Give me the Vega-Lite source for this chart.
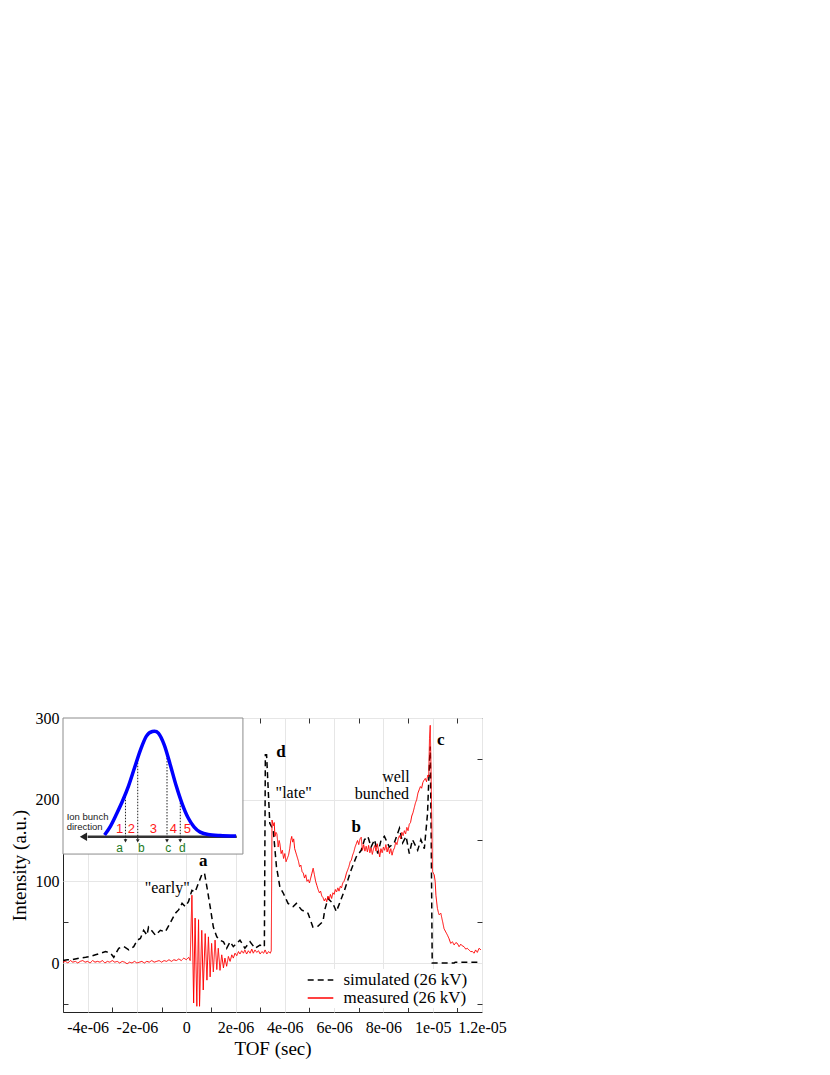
{
  "$schema": "https://vega.github.io/schema/vega-lite/v6.json",
  "width": 419,
  "height": 294,
  "autosize": "none",
  "padding": {"left": 63, "top": 718, "right": 348, "bottom": 63},
  "background": "white",
  "config": {
    "font": "Liberation Serif",
    "view": {"stroke": "#222", "strokeWidth": 1},
    "axis": {
      "labelFont": "Liberation Serif", "labelFontSize": 16, "labelColor": "black",
      "titleFont": "Liberation Serif", "titleFontSize": 19, "titleFontWeight": "normal", "titleColor": "black",
      "domain": false, "tickColor": "#333", "tickSize": -5, "tickWidth": 1,
      "gridColor": "#e6e6e6", "gridWidth": 1, "labelFlush": false, "labelOverlap": false
    },
    "legend": {
      "orient": "none", "legendX": 246.5, "legendY": 251, "padding": 2, "fillColor": "white",
      "labelFont": "Liberation Serif", "labelFontSize": 17, "labelColor": "black",
      "symbolType": "M-1.6,0H1.6", "symbolSize": 256, "symbolStrokeWidth": 1.5,
      "rowPadding": 1, "labelOffset": 14
    }
  },
  "datasets": {
    "curves": [
      {"s": "simulated", "t": -5.0, "v": 3}, {"s": "simulated", "t": -4.82, "v": 4}, {"s": "simulated", "t": -4.62, "v": 4},
      {"s": "simulated", "t": -4.35, "v": 6}, {"s": "simulated", "t": -4.08, "v": 7}, {"s": "simulated", "t": -3.88, "v": 8},
      {"s": "simulated", "t": -3.68, "v": 10}, {"s": "simulated", "t": -3.47, "v": 12}, {"s": "simulated", "t": -3.27, "v": 14},
      {"s": "simulated", "t": -3.07, "v": 12}, {"s": "simulated", "t": -2.94, "v": 7}, {"s": "simulated", "t": -2.74, "v": 18},
      {"s": "simulated", "t": -2.53, "v": 20}, {"s": "simulated", "t": -2.33, "v": 16}, {"s": "simulated", "t": -2.13, "v": 20},
      {"s": "simulated", "t": -1.99, "v": 28}, {"s": "simulated", "t": -1.86, "v": 30}, {"s": "simulated", "t": -1.73, "v": 40},
      {"s": "simulated", "t": -1.59, "v": 34}, {"s": "simulated", "t": -1.53, "v": 44}, {"s": "simulated", "t": -1.46, "v": 42},
      {"s": "simulated", "t": -1.25, "v": 34}, {"s": "simulated", "t": -1.05, "v": 40}, {"s": "simulated", "t": -0.85, "v": 38},
      {"s": "simulated", "t": -0.65, "v": 49}, {"s": "simulated", "t": -0.44, "v": 61}, {"s": "simulated", "t": -0.31, "v": 65},
      {"s": "simulated", "t": -0.17, "v": 73}, {"s": "simulated", "t": -0.04, "v": 69}, {"s": "simulated", "t": 0.09, "v": 75},
      {"s": "simulated", "t": 0.23, "v": 89}, {"s": "simulated", "t": 0.36, "v": 87}, {"s": "simulated", "t": 0.5, "v": 98},
      {"s": "simulated", "t": 0.63, "v": 108}, {"s": "simulated", "t": 0.74, "v": 110}, {"s": "simulated", "t": 0.84, "v": 93},
      {"s": "simulated", "t": 0.97, "v": 69}, {"s": "simulated", "t": 1.1, "v": 44}, {"s": "simulated", "t": 1.24, "v": 32},
      {"s": "simulated", "t": 1.37, "v": 28}, {"s": "simulated", "t": 1.51, "v": 26}, {"s": "simulated", "t": 1.64, "v": 18},
      {"s": "simulated", "t": 1.78, "v": 26}, {"s": "simulated", "t": 1.91, "v": 20}, {"s": "simulated", "t": 2.18, "v": 28},
      {"s": "simulated", "t": 2.38, "v": 18}, {"s": "simulated", "t": 2.59, "v": 26}, {"s": "simulated", "t": 2.79, "v": 18},
      {"s": "simulated", "t": 2.99, "v": 22}, {"s": "simulated", "t": 3.12, "v": 20}, {"s": "simulated", "t": 3.17, "v": 20},
      {"s": "simulated", "t": 3.21, "v": 255}, {"s": "simulated", "t": 3.26, "v": 255}, {"s": "simulated", "t": 3.39, "v": 171},
      {"s": "simulated", "t": 3.53, "v": 163}, {"s": "simulated", "t": 3.66, "v": 118}, {"s": "simulated", "t": 3.8, "v": 93},
      {"s": "simulated", "t": 3.93, "v": 86}, {"s": "simulated", "t": 4.13, "v": 73}, {"s": "simulated", "t": 4.34, "v": 69},
      {"s": "simulated", "t": 4.47, "v": 73}, {"s": "simulated", "t": 4.68, "v": 65}, {"s": "simulated", "t": 4.94, "v": 61},
      {"s": "simulated", "t": 5.08, "v": 49}, {"s": "simulated", "t": 5.14, "v": 44}, {"s": "simulated", "t": 5.34, "v": 45},
      {"s": "simulated", "t": 5.55, "v": 51}, {"s": "simulated", "t": 5.62, "v": 65}, {"s": "simulated", "t": 5.75, "v": 79},
      {"s": "simulated", "t": 5.95, "v": 73}, {"s": "simulated", "t": 6.09, "v": 63}, {"s": "simulated", "t": 6.22, "v": 73},
      {"s": "simulated", "t": 6.42, "v": 89}, {"s": "simulated", "t": 6.69, "v": 114}, {"s": "simulated", "t": 6.9, "v": 130},
      {"s": "simulated", "t": 7.1, "v": 138}, {"s": "simulated", "t": 7.23, "v": 151}, {"s": "simulated", "t": 7.37, "v": 155},
      {"s": "simulated", "t": 7.5, "v": 142}, {"s": "simulated", "t": 7.64, "v": 151}, {"s": "simulated", "t": 7.77, "v": 134},
      {"s": "simulated", "t": 7.91, "v": 151}, {"s": "simulated", "t": 8.04, "v": 155}, {"s": "simulated", "t": 8.24, "v": 142},
      {"s": "simulated", "t": 8.44, "v": 147}, {"s": "simulated", "t": 8.65, "v": 165}, {"s": "simulated", "t": 8.78, "v": 147},
      {"s": "simulated", "t": 8.92, "v": 155}, {"s": "simulated", "t": 9.05, "v": 134}, {"s": "simulated", "t": 9.18, "v": 151},
      {"s": "simulated", "t": 9.39, "v": 138}, {"s": "simulated", "t": 9.52, "v": 151}, {"s": "simulated", "t": 9.66, "v": 140},
      {"s": "simulated", "t": 9.79, "v": 183}, {"s": "simulated", "t": 9.86, "v": 240}, {"s": "simulated", "t": 9.9, "v": 265},
      {"s": "simulated", "t": 9.94, "v": 150}, {"s": "simulated", "t": 9.98, "v": 0}, {"s": "simulated", "t": 10.87, "v": 0},
      {"s": "simulated", "t": 10.91, "v": 1}, {"s": "simulated", "t": 11.96, "v": 1},

      {"s": "measured", "t": -5.0, "v": 1}, {"s": "measured", "t": -4.9, "v": 2}, {"s": "measured", "t": -4.8, "v": 0},
      {"s": "measured", "t": -4.7, "v": 3}, {"s": "measured", "t": -4.6, "v": 1}, {"s": "measured", "t": -4.5, "v": 2},
      {"s": "measured", "t": -4.4, "v": 0}, {"s": "measured", "t": -4.3, "v": 2}, {"s": "measured", "t": -4.2, "v": 3},
      {"s": "measured", "t": -4.1, "v": 1}, {"s": "measured", "t": -4.0, "v": 2}, {"s": "measured", "t": -3.9, "v": 0},
      {"s": "measured", "t": -3.8, "v": 3}, {"s": "measured", "t": -3.7, "v": 1}, {"s": "measured", "t": -3.6, "v": 2},
      {"s": "measured", "t": -3.5, "v": 1}, {"s": "measured", "t": -3.4, "v": 3}, {"s": "measured", "t": -3.3, "v": 0},
      {"s": "measured", "t": -3.2, "v": 2}, {"s": "measured", "t": -3.1, "v": 1}, {"s": "measured", "t": -3.0, "v": 3},
      {"s": "measured", "t": -2.9, "v": 1}, {"s": "measured", "t": -2.8, "v": 2}, {"s": "measured", "t": -2.7, "v": 0},
      {"s": "measured", "t": -2.6, "v": 2}, {"s": "measured", "t": -2.5, "v": 1}, {"s": "measured", "t": -2.4, "v": -1},
      {"s": "measured", "t": -2.3, "v": 1}, {"s": "measured", "t": -2.2, "v": 0}, {"s": "measured", "t": -2.1, "v": 2},
      {"s": "measured", "t": -2.0, "v": 0}, {"s": "measured", "t": -1.9, "v": 1}, {"s": "measured", "t": -1.8, "v": 2},
      {"s": "measured", "t": -1.7, "v": 0}, {"s": "measured", "t": -1.6, "v": 2}, {"s": "measured", "t": -1.5, "v": 1},
      {"s": "measured", "t": -1.4, "v": 3}, {"s": "measured", "t": -1.3, "v": 1}, {"s": "measured", "t": -1.2, "v": 2},
      {"s": "measured", "t": -1.1, "v": 3}, {"s": "measured", "t": -1.0, "v": 1}, {"s": "measured", "t": -0.9, "v": 3},
      {"s": "measured", "t": -0.8, "v": 2}, {"s": "measured", "t": -0.7, "v": 4}, {"s": "measured", "t": -0.6, "v": 2},
      {"s": "measured", "t": -0.5, "v": 4}, {"s": "measured", "t": -0.4, "v": 3}, {"s": "measured", "t": -0.3, "v": 5},
      {"s": "measured", "t": -0.2, "v": 3}, {"s": "measured", "t": -0.1, "v": 6}, {"s": "measured", "t": 0.0, "v": 4},
      {"s": "measured", "t": 0.1, "v": 7}, {"s": "measured", "t": 0.16, "v": 3}, {"s": "measured", "t": 0.23, "v": 83},
      {"s": "measured", "t": 0.3, "v": -49}, {"s": "measured", "t": 0.36, "v": 55}, {"s": "measured", "t": 0.43, "v": -53},
      {"s": "measured", "t": 0.5, "v": 53}, {"s": "measured", "t": 0.54, "v": -53}, {"s": "measured", "t": 0.63, "v": 40},
      {"s": "measured", "t": 0.69, "v": -33}, {"s": "measured", "t": 0.77, "v": 36}, {"s": "measured", "t": 0.84, "v": -21},
      {"s": "measured", "t": 0.9, "v": 32}, {"s": "measured", "t": 0.97, "v": -17}, {"s": "measured", "t": 1.03, "v": 24},
      {"s": "measured", "t": 1.1, "v": -11}, {"s": "measured", "t": 1.17, "v": 28}, {"s": "measured", "t": 1.24, "v": -8},
      {"s": "measured", "t": 1.3, "v": 18}, {"s": "measured", "t": 1.37, "v": -9}, {"s": "measured", "t": 1.44, "v": 10},
      {"s": "measured", "t": 1.51, "v": -6}, {"s": "measured", "t": 1.57, "v": 6}, {"s": "measured", "t": 1.64, "v": -4},
      {"s": "measured", "t": 1.71, "v": 8}, {"s": "measured", "t": 1.78, "v": 2}, {"s": "measured", "t": 1.85, "v": 10},
      {"s": "measured", "t": 1.91, "v": 6}, {"s": "measured", "t": 1.98, "v": 12}, {"s": "measured", "t": 2.05, "v": 9},
      {"s": "measured", "t": 2.12, "v": 14}, {"s": "measured", "t": 2.18, "v": 11}, {"s": "measured", "t": 2.25, "v": 15},
      {"s": "measured", "t": 2.32, "v": 12}, {"s": "measured", "t": 2.38, "v": 16}, {"s": "measured", "t": 2.45, "v": 11},
      {"s": "measured", "t": 2.52, "v": 15}, {"s": "measured", "t": 2.59, "v": 12}, {"s": "measured", "t": 2.66, "v": 17},
      {"s": "measured", "t": 2.72, "v": 12}, {"s": "measured", "t": 2.79, "v": 16}, {"s": "measured", "t": 2.86, "v": 13},
      {"s": "measured", "t": 2.93, "v": 15}, {"s": "measured", "t": 3.0, "v": 11}, {"s": "measured", "t": 3.07, "v": 14},
      {"s": "measured", "t": 3.14, "v": 12}, {"s": "measured", "t": 3.2, "v": 16}, {"s": "measured", "t": 3.27, "v": 11},
      {"s": "measured", "t": 3.34, "v": 14}, {"s": "measured", "t": 3.41, "v": 12}, {"s": "measured", "t": 3.45, "v": 15},
      {"s": "measured", "t": 3.48, "v": 175}, {"s": "measured", "t": 3.53, "v": 168}, {"s": "measured", "t": 3.57, "v": 172},
      {"s": "measured", "t": 3.6, "v": 155}, {"s": "measured", "t": 3.64, "v": 160}, {"s": "measured", "t": 3.68, "v": 158},
      {"s": "measured", "t": 3.73, "v": 142}, {"s": "measured", "t": 3.77, "v": 150}, {"s": "measured", "t": 3.8, "v": 146},
      {"s": "measured", "t": 3.85, "v": 134}, {"s": "measured", "t": 3.9, "v": 138}, {"s": "measured", "t": 3.95, "v": 128},
      {"s": "measured", "t": 4.0, "v": 134}, {"s": "measured", "t": 4.05, "v": 124}, {"s": "measured", "t": 4.1, "v": 128},
      {"s": "measured", "t": 4.15, "v": 132}, {"s": "measured", "t": 4.2, "v": 140}, {"s": "measured", "t": 4.24, "v": 150},
      {"s": "measured", "t": 4.28, "v": 155}, {"s": "measured", "t": 4.32, "v": 148}, {"s": "measured", "t": 4.36, "v": 152},
      {"s": "measured", "t": 4.4, "v": 140}, {"s": "measured", "t": 4.45, "v": 135}, {"s": "measured", "t": 4.5, "v": 130},
      {"s": "measured", "t": 4.55, "v": 125}, {"s": "measured", "t": 4.6, "v": 118}, {"s": "measured", "t": 4.65, "v": 120},
      {"s": "measured", "t": 4.7, "v": 112}, {"s": "measured", "t": 4.75, "v": 110}, {"s": "measured", "t": 4.8, "v": 104},
      {"s": "measured", "t": 4.85, "v": 108}, {"s": "measured", "t": 4.9, "v": 100}, {"s": "measured", "t": 4.95, "v": 102},
      {"s": "measured", "t": 5.0, "v": 98}, {"s": "measured", "t": 5.05, "v": 104}, {"s": "measured", "t": 5.1, "v": 110},
      {"s": "measured", "t": 5.15, "v": 116}, {"s": "measured", "t": 5.2, "v": 108}, {"s": "measured", "t": 5.25, "v": 100},
      {"s": "measured", "t": 5.3, "v": 95}, {"s": "measured", "t": 5.35, "v": 90}, {"s": "measured", "t": 5.4, "v": 86},
      {"s": "measured", "t": 5.45, "v": 88}, {"s": "measured", "t": 5.5, "v": 82}, {"s": "measured", "t": 5.55, "v": 80},
      {"s": "measured", "t": 5.6, "v": 76}, {"s": "measured", "t": 5.65, "v": 79}, {"s": "measured", "t": 5.7, "v": 75},
      {"s": "measured", "t": 5.75, "v": 82}, {"s": "measured", "t": 5.8, "v": 78}, {"s": "measured", "t": 5.85, "v": 84},
      {"s": "measured", "t": 5.9, "v": 79}, {"s": "measured", "t": 5.95, "v": 86}, {"s": "measured", "t": 6.0, "v": 84},
      {"s": "measured", "t": 6.05, "v": 90}, {"s": "measured", "t": 6.1, "v": 87}, {"s": "measured", "t": 6.15, "v": 92},
      {"s": "measured", "t": 6.2, "v": 88}, {"s": "measured", "t": 6.25, "v": 94}, {"s": "measured", "t": 6.3, "v": 92},
      {"s": "measured", "t": 6.35, "v": 98}, {"s": "measured", "t": 6.4, "v": 100}, {"s": "measured", "t": 6.45, "v": 104},
      {"s": "measured", "t": 6.5, "v": 110}, {"s": "measured", "t": 6.55, "v": 114}, {"s": "measured", "t": 6.6, "v": 118},
      {"s": "measured", "t": 6.65, "v": 124}, {"s": "measured", "t": 6.7, "v": 126}, {"s": "measured", "t": 6.75, "v": 132},
      {"s": "measured", "t": 6.8, "v": 136}, {"s": "measured", "t": 6.85, "v": 142}, {"s": "measured", "t": 6.9, "v": 146},
      {"s": "measured", "t": 6.95, "v": 150}, {"s": "measured", "t": 7.0, "v": 145}, {"s": "measured", "t": 7.05, "v": 152},
      {"s": "measured", "t": 7.1, "v": 154}, {"s": "measured", "t": 7.15, "v": 138}, {"s": "measured", "t": 7.2, "v": 145},
      {"s": "measured", "t": 7.25, "v": 137}, {"s": "measured", "t": 7.3, "v": 143}, {"s": "measured", "t": 7.35, "v": 136},
      {"s": "measured", "t": 7.4, "v": 144}, {"s": "measured", "t": 7.45, "v": 135}, {"s": "measured", "t": 7.5, "v": 141},
      {"s": "measured", "t": 7.55, "v": 133}, {"s": "measured", "t": 7.6, "v": 140}, {"s": "measured", "t": 7.65, "v": 144},
      {"s": "measured", "t": 7.7, "v": 137}, {"s": "measured", "t": 7.75, "v": 146}, {"s": "measured", "t": 7.8, "v": 138},
      {"s": "measured", "t": 7.85, "v": 130}, {"s": "measured", "t": 7.9, "v": 140}, {"s": "measured", "t": 7.95, "v": 135},
      {"s": "measured", "t": 8.0, "v": 142}, {"s": "measured", "t": 8.05, "v": 138}, {"s": "measured", "t": 8.1, "v": 145},
      {"s": "measured", "t": 8.15, "v": 136}, {"s": "measured", "t": 8.2, "v": 142}, {"s": "measured", "t": 8.25, "v": 134},
      {"s": "measured", "t": 8.3, "v": 140}, {"s": "measured", "t": 8.35, "v": 132}, {"s": "measured", "t": 8.4, "v": 138},
      {"s": "measured", "t": 8.45, "v": 141}, {"s": "measured", "t": 8.5, "v": 148}, {"s": "measured", "t": 8.55, "v": 145},
      {"s": "measured", "t": 8.6, "v": 152}, {"s": "measured", "t": 8.65, "v": 156}, {"s": "measured", "t": 8.7, "v": 152},
      {"s": "measured", "t": 8.75, "v": 160}, {"s": "measured", "t": 8.8, "v": 156}, {"s": "measured", "t": 8.85, "v": 162},
      {"s": "measured", "t": 8.9, "v": 158}, {"s": "measured", "t": 8.95, "v": 166}, {"s": "measured", "t": 9.0, "v": 162},
      {"s": "measured", "t": 9.05, "v": 170}, {"s": "measured", "t": 9.1, "v": 172}, {"s": "measured", "t": 9.15, "v": 180},
      {"s": "measured", "t": 9.2, "v": 184}, {"s": "measured", "t": 9.25, "v": 190}, {"s": "measured", "t": 9.3, "v": 196},
      {"s": "measured", "t": 9.35, "v": 200}, {"s": "measured", "t": 9.4, "v": 208}, {"s": "measured", "t": 9.45, "v": 212},
      {"s": "measured", "t": 9.5, "v": 216}, {"s": "measured", "t": 9.55, "v": 214}, {"s": "measured", "t": 9.6, "v": 221},
      {"s": "measured", "t": 9.65, "v": 224}, {"s": "measured", "t": 9.7, "v": 226}, {"s": "measured", "t": 9.75, "v": 222},
      {"s": "measured", "t": 9.8, "v": 230}, {"s": "measured", "t": 9.84, "v": 228}, {"s": "measured", "t": 9.87, "v": 275},
      {"s": "measured", "t": 9.9, "v": 291}, {"s": "measured", "t": 9.93, "v": 240}, {"s": "measured", "t": 9.97, "v": 160},
      {"s": "measured", "t": 9.99, "v": 112}, {"s": "measured", "t": 10.06, "v": 108}, {"s": "measured", "t": 10.1, "v": 100},
      {"s": "measured", "t": 10.13, "v": 83}, {"s": "measured", "t": 10.19, "v": 67}, {"s": "measured", "t": 10.23, "v": 62},
      {"s": "measured", "t": 10.26, "v": 59}, {"s": "measured", "t": 10.33, "v": 61}, {"s": "measured", "t": 10.37, "v": 55},
      {"s": "measured", "t": 10.4, "v": 51}, {"s": "measured", "t": 10.46, "v": 42}, {"s": "measured", "t": 10.53, "v": 38},
      {"s": "measured", "t": 10.6, "v": 34}, {"s": "measured", "t": 10.66, "v": 30}, {"s": "measured", "t": 10.73, "v": 24},
      {"s": "measured", "t": 10.8, "v": 26}, {"s": "measured", "t": 10.87, "v": 22}, {"s": "measured", "t": 10.94, "v": 25},
      {"s": "measured", "t": 11.0, "v": 24}, {"s": "measured", "t": 11.07, "v": 20}, {"s": "measured", "t": 11.14, "v": 23},
      {"s": "measured", "t": 11.2, "v": 21}, {"s": "measured", "t": 11.27, "v": 20}, {"s": "measured", "t": 11.34, "v": 17},
      {"s": "measured", "t": 11.4, "v": 18}, {"s": "measured", "t": 11.47, "v": 16}, {"s": "measured", "t": 11.54, "v": 14},
      {"s": "measured", "t": 11.61, "v": 14}, {"s": "measured", "t": 11.68, "v": 12}, {"s": "measured", "t": 11.74, "v": 16},
      {"s": "measured", "t": 11.81, "v": 13}, {"s": "measured", "t": 11.88, "v": 18}, {"s": "measured", "t": 11.96, "v": 16}
    ],
    "box": [{"x1": -5, "x2": 2.3, "y1": 133.4, "y2": 300}],
    "arrow": [{"x1": -4.0, "x2": 2.05, "y": 154.6, "hx": -4.17}],
    "cuts": [
      {"t": -2.465, "top": 203.6, "bot": 149.5},
      {"t": -1.968, "top": 252.6, "bot": 149.5},
      {"t": -0.78, "top": 254.7, "bot": 149.5},
      {"t": -0.242, "top": 203.6, "bot": 149.5}
    ],
    "bunch": [
      {"t": -3.313, "v": 156.7}, {"t": -3.071, "v": 167.7}, {"t": -2.828, "v": 182.4}, {"t": -2.586, "v": 198.3},
      {"t": -2.343, "v": 216.6}, {"t": -2.101, "v": 238.7}, {"t": -1.859, "v": 260.7}, {"t": -1.616, "v": 277.8},
      {"t": -1.374, "v": 283.4}, {"t": -1.131, "v": 281.5}, {"t": -0.889, "v": 266.8}, {"t": -0.646, "v": 242.4},
      {"t": -0.404, "v": 216.6}, {"t": -0.162, "v": 194.6}, {"t": 0.081, "v": 177.5}, {"t": 0.323, "v": 166.5},
      {"t": 0.566, "v": 160.3}, {"t": 0.889, "v": 157.3}, {"t": 1.374, "v": 156.1}, {"t": 2.02, "v": 155.4}
    ],
    "nums": [
      {"t": -2.707, "v": 164, "txt": "1"}, {"t": -2.222, "v": 164, "txt": "2"}, {"t": -1.333, "v": 164, "txt": "3"},
      {"t": -0.525, "v": 164, "txt": "4"}, {"t": 0.05, "v": 164, "txt": "5"}
    ],
    "letters": [
      {"t": -2.707, "v": 141, "txt": "a"}, {"t": -1.818, "v": 141, "txt": "b"},
      {"t": -0.727, "v": 141, "txt": "c"}, {"t": -0.162, "v": 141, "txt": "d"}
    ],
    "dirtext": [
      {"t": -4.85, "v": 178.8, "txt": "Ion bunch"}, {"t": -4.85, "v": 166.5, "txt": "direction"}
    ],
    "boldann": [
      {"t": 0.69, "v": 125, "txt": "a"}, {"t": 3.84, "v": 258.4, "txt": "d"},
      {"t": 6.9, "v": 167, "txt": "b"}, {"t": 10.33, "v": 273, "txt": "c"}
    ],
    "ann": [
      {"t": -0.77, "v": 92, "txt": "\"early\""}, {"t": 4.36, "v": 207.7, "txt": "\"late\""},
      {"t": 8.51, "v": 228, "txt": "well"}, {"t": 7.94, "v": 207, "txt": "bunched"}
    ]
  },
  "layer": [
    {
      "data": {"name": "curves"},
      "transform": [{"filter": "datum.s == 'simulated'"}],
      "mark": {"type": "line", "strokeWidth": 1.5},
      "encoding": {
        "x": {
          "field": "t", "type": "quantitative",
          "scale": {"domain": [-5, 12], "nice": false, "zero": false},
          "axis": {
            "orient": "bottom", "title": "TOF (sec)",
            "values": [-5, -4, -3, -2, -1, 0, 1, 2, 3, 4, 5, 6, 7, 8, 9, 10, 11, 12],
            "labelExpr": "abs(datum.value % 2) == 1 ? '' : datum.value == 0 ? '0' : datum.value == 10 ? '1e-05' : datum.value == 12 ? '1.2e-05' : datum.value + 'e-06'",
            "tickOpacity": {"condition": {"test": "abs(datum.value % 2) == 1", "value": 1}, "value": 0},
            "gridOpacity": {"condition": {"test": "datum.value % 2 == 0", "value": 1}, "value": 0},
            "labelPadding": 12, "titlePadding": 4
          }
        },
        "y": {
          "field": "v", "type": "quantitative",
          "scale": {"domain": [-60, 300], "nice": false, "zero": false},
          "axis": {
            "orient": "left", "title": "Intensity (a.u.)",
            "values": [-50, 0, 50, 100, 150, 200, 250, 300],
            "labelExpr": "datum.value % 100 == 0 ? datum.value + '' : ''",
            "tickOpacity": {"condition": {"test": "datum.value % 100 != 0", "value": 1}, "value": 0},
            "gridOpacity": {"condition": {"test": "datum.value % 100 == 0", "value": 1}, "value": 0},
            "labelPadding": 9, "titlePadding": 6
          }
        },
        "color": {
          "field": "s", "type": "nominal",
          "scale": {"domain": ["simulated", "measured"], "range": ["black", "#ff0000"]},
          "legend": {"title": null, "labelExpr": "datum.label + ' (26 kV)'"}
        },
        "strokeDash": {
          "field": "s", "type": "nominal",
          "scale": {"domain": ["simulated", "measured"], "range": [[6, 4], [1, 0]]},
          "legend": {"title": null, "labelExpr": "datum.label + ' (26 kV)'"}
        }
      }
    },
    {
      "data": {"name": "curves"},
      "transform": [{"filter": "datum.s == 'measured'"}],
      "mark": {"type": "line", "strokeWidth": 1},
      "encoding": {
        "x": {"field": "t", "type": "quantitative", "axis": null},
        "y": {"field": "v", "type": "quantitative", "axis": null},
        "color": {"field": "s", "type": "nominal", "legend": {"title": null, "labelExpr": "datum.label + ' (26 kV)'"}},
        "strokeDash": {"field": "s", "type": "nominal", "legend": {"title": null, "labelExpr": "datum.label + ' (26 kV)'"}}
      }
    },
    {
      "data": {"name": "box"},
      "mark": {"type": "rect", "fill": "white", "stroke": "#8c8c8c", "strokeWidth": 1},
      "encoding": {
        "x": {"field": "x1", "type": "quantitative", "axis": {"orient": "top", "values": [-3, -1, 1, 3, 5, 7, 9, 11], "labels": false, "grid": false, "title": null}},
        "x2": {"field": "x2"},
        "y": {"field": "y1", "type": "quantitative", "axis": {"orient": "right", "values": [-50, 50, 150, 250], "labels": false, "grid": false, "title": null}},
        "y2": {"field": "y2"}
      }
    },
    {
      "data": {"name": "arrow"},
      "mark": {"type": "rule", "stroke": "#333333", "strokeWidth": 2.5},
      "encoding": {
        "x": {"field": "x1", "type": "quantitative", "axis": null},
        "x2": {"field": "x2"},
        "y": {"field": "y", "type": "quantitative", "axis": null}
      }
    },
    {
      "data": {"name": "arrow"},
      "mark": {"type": "point", "shape": "triangle-left", "filled": true, "fill": "#222222", "size": 70, "opacity": 1},
      "encoding": {
        "x": {"field": "hx", "type": "quantitative", "axis": null},
        "y": {"field": "y", "type": "quantitative", "axis": null}
      }
    },
    {
      "data": {"name": "cuts"},
      "mark": {"type": "rule", "stroke": "#222222", "strokeWidth": 1, "strokeDash": [1.5, 1.5]},
      "encoding": {
        "x": {"field": "t", "type": "quantitative", "axis": null},
        "y": {"field": "top", "type": "quantitative", "axis": null},
        "y2": {"field": "bot"}
      }
    },
    {
      "data": {"name": "cuts"},
      "mark": {"type": "point", "shape": "triangle-down", "filled": true, "fill": "#222222", "size": 14, "opacity": 1},
      "encoding": {
        "x": {"field": "t", "type": "quantitative", "axis": null},
        "y": {"field": "bot", "type": "quantitative", "axis": null}
      }
    },
    {
      "data": {"name": "bunch"},
      "mark": {"type": "line", "stroke": "#0000ff", "strokeWidth": 3.5, "interpolate": "cardinal"},
      "encoding": {
        "x": {"field": "t", "type": "quantitative", "axis": null},
        "y": {"field": "v", "type": "quantitative", "axis": null}
      }
    },
    {
      "data": {"name": "nums"},
      "mark": {"type": "text", "font": "Liberation Sans", "fontSize": 13, "fill": "#ff1a1a", "align": "center", "baseline": "middle"},
      "encoding": {
        "x": {"field": "t", "type": "quantitative", "axis": null},
        "y": {"field": "v", "type": "quantitative", "axis": null},
        "text": {"field": "txt"}
      }
    },
    {
      "data": {"name": "letters"},
      "mark": {"type": "text", "font": "Liberation Sans", "fontSize": 12, "fill": "#1e7a1e", "align": "center", "baseline": "middle"},
      "encoding": {
        "x": {"field": "t", "type": "quantitative", "axis": null},
        "y": {"field": "v", "type": "quantitative", "axis": null},
        "text": {"field": "txt"}
      }
    },
    {
      "data": {"name": "dirtext"},
      "mark": {"type": "text", "font": "Liberation Sans", "fontSize": 9.5, "fill": "#222222", "align": "left", "baseline": "middle"},
      "encoding": {
        "x": {"field": "t", "type": "quantitative", "axis": null},
        "y": {"field": "v", "type": "quantitative", "axis": null},
        "text": {"field": "txt"}
      }
    },
    {
      "data": {"name": "boldann"},
      "mark": {"type": "text", "font": "Liberation Serif", "fontSize": 17, "fontWeight": "bold", "fill": "black", "align": "center", "baseline": "middle"},
      "encoding": {
        "x": {"field": "t", "type": "quantitative", "axis": null},
        "y": {"field": "v", "type": "quantitative", "axis": null},
        "text": {"field": "txt"}
      }
    },
    {
      "data": {"name": "ann"},
      "mark": {"type": "text", "font": "Liberation Serif", "fontSize": 16, "fill": "black", "align": "center", "baseline": "middle"},
      "encoding": {
        "x": {"field": "t", "type": "quantitative", "axis": null},
        "y": {"field": "v", "type": "quantitative", "axis": null},
        "text": {"field": "txt"}
      }
    }
  ],
  "resolve": {"axis": {"x": "independent", "y": "independent"}}
}
